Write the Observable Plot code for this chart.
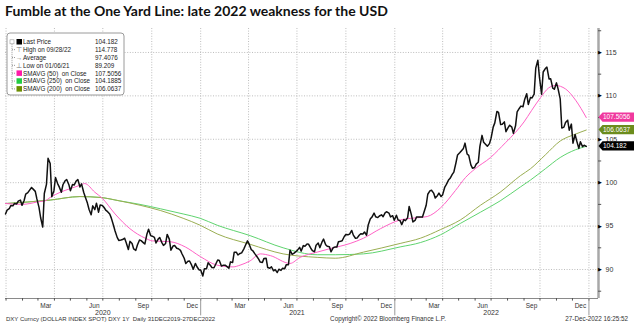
<!DOCTYPE html>
<html><head><meta charset="utf-8">
<script src="https://cdn.jsdelivr.net/npm/d3@7"></script>
<script src="https://cdn.jsdelivr.net/npm/@observablehq/plot@0.6"></script>
<style>
body{margin:0;background:#fff;width:638px;height:333px;overflow:hidden;position:relative;font-family:"Liberation Sans",Arial,sans-serif;}
#title{position:absolute;left:5px;top:2px;font-family:Lato,sans-serif;font-weight:700;font-size:14px;color:#111;white-space:nowrap;}
#chart{position:absolute;left:0;top:24px;}
</style></head><body>
<div id="title">Fumble at the One Yard Line: late 2022 weakness for the USD</div>
<div id="chart"></div>
<script>
// ---- DATA ----
const firstTuesday = "2019-12-31";
// each row: [Tuesday close, Friday close] for consecutive weeks
const weeklyCloses = [
[96.39,96.84],[97.00,97.36],[97.35,97.61],[97.55,97.87],[98.00,97.39],[97.95,98.68],[98.85,99.12],[99.45,99.26],[99.00,98.13],[97.15,95.99],
[94.90,98.75],[99.80,102.82],[102.20,98.37],[99.05,100.59],[99.90,99.52],[98.90,99.76],[100.22,100.37],[99.80,99.08],[99.80,99.73],[100.20,100.37],
[99.50,99.86],[98.90,98.34],[97.65,96.94],[96.30,97.33],[96.90,97.64],[96.60,97.43],[97.38,97.17],[96.80,96.66],[96.40,95.92],[95.10,94.44],
[93.70,93.35],[93.40,93.45],[93.60,93.09],[92.30,93.24],[93.00,92.37],[92.20,92.82],[93.40,93.33],[93.10,92.93],[94.10,94.64],[93.90,93.84],
[93.70,93.06],[93.50,93.69],[93.10,92.77],[93.00,94.04],[93.50,92.23],[92.70,92.76],[92.45,92.39],[92.20,91.79],[91.30,90.70],[90.95,90.98],
[90.50,90.02],[90.70,90.32],[89.95,89.94],
[89.25,90.10],[90.10,90.77],[90.50,90.23],[90.20,90.58],[91.10,91.03],[90.40,90.48],[90.50,90.36],[90.15,90.88],[90.80,91.98],[92.00,91.67],
[91.85,91.92],[92.35,92.76],[93.30,92.95],[92.30,92.16],[91.80,91.56],[91.20,90.86],[90.80,91.28],[91.30,90.23],[90.15,90.32],[89.85,89.99],
[89.65,90.03],[89.90,90.14],[90.10,90.56],[90.55,92.23],[91.75,91.85],[92.05,92.23],[92.55,92.12],[92.75,92.68],[92.95,92.90],[92.45,92.17],
[92.05,92.80],[93.05,92.52],[93.15,93.50],[92.85,92.67],[92.63,92.04],[92.50,92.58],[92.60,93.20],[93.25,93.31],[93.80,94.04],[94.00,94.07],
[94.50,93.96],[93.60,93.62],[93.95,94.12],[94.10,94.32],[93.95,95.13],[95.85,96.03],[96.50,96.08],[95.98,96.16],[96.30,96.08],[96.55,96.65],
[96.50,96.05],[96.20,95.67],
[96.25,95.72],[95.62,95.17],[95.75,95.63],[95.95,97.27],[96.35,95.48],[95.65,96.06],[96.05,96.04],[96.05,96.63],[97.40,98.67],[99.05,99.13],
[98.80,98.23],[98.50,98.80],[98.40,98.62],[99.50,99.80],[100.30,100.50],[100.95,101.21],[102.30,103.20],[103.45,103.66],[103.95,104.56],[103.30,103.14],
[102.05,101.67],[101.75,102.14],[102.35,104.18],[105.45,104.66],[104.40,104.20],[104.50,105.13],[106.40,106.89],[108.20,108.09],[106.70,106.72],[107.00,105.88],
[106.35,106.62],[106.40,105.69],[106.55,108.16],[108.55,108.82],[108.75,109.54],[110.25,109.01],[109.80,109.76],[110.20,113.19],[114.10,112.12],[110.20,112.75],
[113.15,113.31],[111.95,111.98],[110.90,110.76],[111.50,110.81],[109.65,106.29],[106.40,106.93],[107.20,106.04],[106.75,104.55],[105.55,104.82],[103.95,104.71],
[104.15,104.31],[104.18]
];

const sma50Dates = ["2019-12-31","2020-01-31","2020-02-15","2020-03-01","2020-03-14","2020-03-24","2020-04-12","2020-04-30","2020-05-19","2020-05-28",
"2020-06-16","2020-06-30","2020-07-24","2020-08-21","2020-09-19","2020-10-02","2020-11-05","2020-12-03","2020-12-31","2021-02-01",
"2021-03-03","2021-03-16","2021-04-04","2021-04-23","2021-05-12","2021-06-18","2021-07-07","2021-08-08","2021-09-01","2021-10-09",
"2021-11-03","2021-12-05","2022-01-11","2022-02-18","2022-03-03","2022-03-28","2022-04-25","2022-05-14","2022-06-01","2022-06-30",
"2022-07-28","2022-08-16","2022-09-01","2022-09-15","2022-10-02","2022-10-17","2022-10-30","2022-11-18","2022-12-07","2022-12-27"];
const sma50Values = [97.6,97.5,97.6,97.8,97.9,98.3,98.9,99.3,99.7,99.9,
98.9,98.2,96.4,94.7,93.6,93.3,93.2,92.6,91.5,90.5,
90.3,90.5,91.0,91.8,91.6,90.7,91.4,92.0,92.4,93.0,
93.6,94.7,95.7,96.0,96.1,97.1,99.1,100.6,101.6,102.9,
104.6,105.8,107.0,108.3,109.8,110.9,111.2,110.8,109.5,107.5056];

const longMaDates = ["2019-12-31","2020-03-24","2020-05-19","2020-06-26","2020-08-02","2020-09-09","2020-10-17","2020-11-29","2020-12-31","2021-02-01",
"2021-04-04","2021-06-05","2021-08-08","2021-09-11","2021-11-03","2022-01-11","2022-02-18","2022-03-28","2022-05-04","2022-06-11",
"2022-07-18","2022-08-25","2022-09-13","2022-10-11","2022-11-08","2022-12-07","2022-12-27"];
const sma250Values = [97.6,98.0,98.4,98.3,97.9,97.5,97.0,96.4,95.9,95.1,
93.9,92.5,91.7,91.7,91.8,92.6,93.1,94.0,95.3,96.6,
97.9,99.5,100.3,101.6,102.9,103.8,104.1885];
const sma200Values = [97.6,98.0,98.4,98.3,97.9,97.4,96.8,95.9,95.1,94.1,
92.9,91.8,91.4,91.3,92.0,93.0,93.6,94.6,95.7,97.4,
98.9,100.8,101.6,103.2,104.8,105.6,106.0637];

const yTicks = [90, 95, 100, 105, 110, 115];
const yMinorTicks = [87.5, 92.5, 97.5, 102.5, 107.5, 112.5, 117.5];
const monthLabels = [["2020-03-16","Mar"],["2020-06-15","Jun"],["2020-09-15","Sep"],["2020-12-16","Dec"],
["2021-03-16","Mar"],["2021-06-15","Jun"],["2021-09-15","Sep"],["2021-12-16","Dec"],
["2022-03-16","Mar"],["2022-06-15","Jun"],["2022-09-15","Sep"],["2022-12-16","Dec"]];
const yearLabels = [["2020-07-01","2020"],["2021-07-01","2021"],["2022-07-01","2022"]];
const yearBoundaries = ["2021-01-01","2022-01-01","2023-01-01"];

const legendLabels = ["Last Price","High on 09/28/22","Average","Low on 01/06/21","SMAVG (50)  on Close","SMAVG (250)  on Close","SMAVG (200)  on Close"];
const legendValues = ["104.182","114.778","97.4076","89.209","107.5056","104.1885","106.0637"];
const tagValues = [107.5056, 106.0637, 104.182];
const tagTexts = ["107.5056","106.0637","104.182"];

const footerLeft = "DXY Curncy (DOLLAR INDEX SPOT) DXY 1Y  Daily 31DEC2019-27DEC2022";
const footerMid = "Copyright\u00A9 2022 Bloomberg Finance L.P.";
const footerRight = "27-Dec-2022 16:25:52";

// ---- BUILD ----
const parse = d3.utcParse("%Y-%m-%d");
const t0 = parse(firstTuesday);
const price = [];
weeklyCloses.forEach((w, i) => {
  price.push({date: d3.utcDay.offset(t0, 7 * i), value: w[0]});
  if (w.length > 1) price.push({date: d3.utcDay.offset(t0, 7 * i + 3), value: w[1]});
});
const sma50 = sma50Dates.map((d, i) => ({date: parse(d), value: sma50Values[i]}));
const sma250 = longMaDates.map((d, i) => ({date: parse(d), value: sma250Values[i]}));
const sma200 = longMaDates.map((d, i) => ({date: parse(d), value: sma200Values[i]}));

const xDomain = [parse("2019-12-31"), parse("2023-01-19")];
const yDomain = [86.66, 117.76];
const quarterStarts = d3.utcMonth.range(parse("2020-01-01"), parse("2023-01-02"), 3);
const monthStarts = d3.utcMonth.range(parse("2020-01-01"), parse("2023-01-02"));
const ml = monthLabels.map(([d, t]) => ({date: parse(d), text: t}));
const yl = yearLabels.map(([d, t]) => ({date: parse(d), text: t}));
const yb = yearBoundaries.map(parse);

const grid = {stroke: "#bdbdbd", strokeDasharray: "1,1.6", strokeWidth: 1};
const lab = "#333";

const chart = Plot.plot({
  width: 638, height: 309,
  marginLeft: 5, marginRight: 40, marginTop: 4, marginBottom: 35,
  x: {type: "utc", domain: xDomain, axis: null},
  y: {domain: yDomain, axis: null},
  style: {fontFamily: "Liberation Sans, Arial, sans-serif", background: "white", overflow: "visible"},
  marks: [
    Plot.ruleY(yTicks, grid),
    Plot.ruleX(quarterStarts, grid),
    Plot.ruleY([yDomain[0]], {stroke: "#8a8a8a"}),
    Plot.ruleX(monthStarts, {y1: yDomain[0], y2: yDomain[0] - 0.3, stroke: "#555"}),
    Plot.ruleX(yb, {y1: yDomain[0], y2: yDomain[0] - 2.0, stroke: "#9a9a9a"}),
    Plot.text(ml, {x: "date", y: yDomain[0], text: "text", dy: 7, fontSize: 6.5, fill: lab}),
    Plot.text(yl, {x: "date", y: yDomain[0], text: "text", dy: 14, fontSize: 7, fill: lab}),
    Plot.ruleX([xDomain[1]], {stroke: "#a8a8a8", strokeWidth: 2.5}),
    Plot.ruleY(yMinorTicks.filter(v => v < yDomain[1]), {x1: xDomain[1], x2: d3.utcDay.offset(xDomain[1], 6), stroke: "#555"}),
    Plot.text(yTicks, {y: d => d, frameAnchor: "right", text: () => "\u25B6", dx: 3, fontSize: 4.5, fill: "#000"}),
    Plot.text(yTicks, {y: d => d, frameAnchor: "right", text: d => String(d), dx: 7, textAnchor: "start", fontSize: 7, fill: lab}),
    Plot.line(sma250, {x: "date", y: "value", stroke: "#5fd46f", strokeWidth: 1, curve: "monotone-x"}),
    Plot.line(sma200, {x: "date", y: "value", stroke: "#9aae52", strokeWidth: 1, curve: "monotone-x"}),
    Plot.line(sma50, {x: "date", y: "value", stroke: "#ff62c6", strokeWidth: 1, curve: "monotone-x"}),
    Plot.line(price, {x: "date", y: "value", stroke: "#111", strokeWidth: 1.5})
  ]
});
document.getElementById("chart").appendChild(chart);

// ---- overlays using the plot's scales ----
const svg = d3.select(chart);
const ys = chart.scale("y"), xs = chart.scale("x");
const xr = xs.apply(xDomain[1]);
const tagFills = ["#f0399e", "#6b8c1c", "#000000"];
const tg = svg.append("g").attr("text-anchor", "start");
tagValues.forEach((v, i) => {
  const y = ys.apply(v), x0 = xr + 0.5, x1 = 634, h = 4.6;
  tg.append("path").attr("d", `M${x0},${y}L${x0 + 4},${y - h}L${x1},${y - h}L${x1},${y + h}L${x0 + 4},${y + h}Z`).attr("fill", tagFills[i]);
  tg.append("text").attr("x", x0 + 4.5).attr("y", y + 2.4).attr("text-anchor", "start").attr("fill", "#fff").attr("font-size", 6.5).text(tagTexts[i]);
});

// legend box
const lgX = 7, lgY = 9;
const lg = svg.append("g").attr("transform", `translate(${lgX},${lgY})`).attr("text-anchor", "start");
lg.append("rect").attr("width", 117).attr("height", 62).attr("rx", 3).attr("fill", "#fff").attr("stroke", "#9a9a9a");
const rowY = i => 8.8 + i * 7.85;
lg.append("line").attr("x1", 5).attr("x2", 5).attr("y1", rowY(0)).attr("y2", rowY(6)).attr("stroke", "#999").attr("stroke-dasharray", "1,1");
lg.append("rect").attr("x", 3).attr("y", rowY(0) - 2).attr("width", 4).attr("height", 4).attr("fill", "#fff").attr("stroke", "#999").attr("stroke-width", 0.6);
const swFill = ["#000", null, null, null, "#ff1aa8", "#22cc44", "#6b8e00"];
const swGlyph = [null, "\u22A4", "\u2192", "\u22A5", null, null, null];
legendLabels.forEach((t, i) => {
  const y = rowY(i);
  if (i > 0) lg.append("line").attr("x1", 5).attr("x2", 9).attr("y1", y).attr("y2", y).attr("stroke", "#999").attr("stroke-dasharray", "1,1");
  if (swFill[i]) lg.append("rect").attr("x", 9.5).attr("y", y - 2.8).attr("width", 5.5).attr("height", 5.5).attr("fill", swFill[i]);
  else lg.append("text").attr("x", 12).attr("y", y + 2.4).attr("text-anchor", "middle").attr("font-size", 6.5).attr("fill", "#777").text(swGlyph[i]);
  lg.append("text").attr("x", 16).attr("y", y + 2.3).attr("text-anchor", "start").attr("font-size", 6.3).attr("fill", "#222").attr("xml:space", "preserve").style("white-space", "pre").text(t);
  lg.append("text").attr("x", 88).attr("y", y + 2.3).attr("text-anchor", "start").attr("font-size", 6.3).attr("fill", "#222").text(legendValues[i]);
});

// footer
const fy = 297;
svg.append("text").attr("x", 6).attr("y", fy).attr("text-anchor", "start").attr("font-size", 6).attr("fill", "#333").style("white-space", "pre").text(footerLeft);
svg.append("text").attr("x", 388).attr("y", fy).attr("text-anchor", "middle").attr("font-size", 6.3).attr("fill", "#333").text(footerMid);
svg.append("text").attr("x", 628).attr("y", fy).attr("text-anchor", "end").attr("font-size", 6.3).attr("fill", "#333").text(footerRight);
</script>
</body></html>
